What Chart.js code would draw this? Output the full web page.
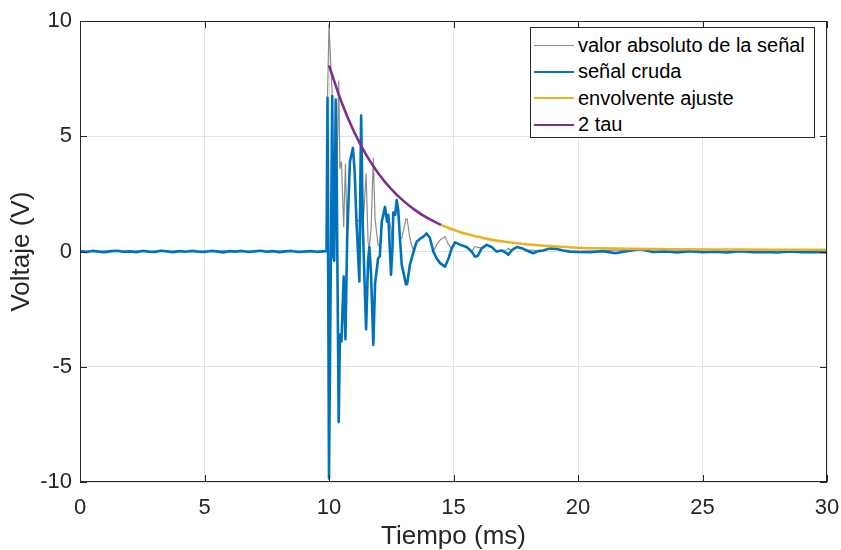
<!DOCTYPE html>
<html>
<head>
<meta charset="utf-8">
<script src="https://cdn.jsdelivr.net/npm/chart.js@4.4.1/dist/chart.umd.min.js"></script>
<style>
    html, body { margin: 0; padding: 0; background: #fff; }
    #wrap { position: relative; width: 841px; height: 550px; }
    #legend {
        position: absolute; left: 530px; top: 27px; width: 285px; height: 111px;
        box-sizing: border-box; border: 1px solid #262626; background: #fff;
        font-family: "Liberation Sans", Arial, sans-serif; font-size: 20px; color: #000;
        padding-top: 4px;
    }
    .row { display: flex; align-items: center; height: 26.5px; white-space: nowrap; }
    .sw { width: 40px; margin: 0 4px 0 3px; }
</style>
</head>
<body>
<div id="wrap">
    <canvas id="signalChart" width="841" height="550"></canvas>
    <div id="legend">
        <div class="row"><span class="sw" style="border-top:1.5px solid #8c8c8c"></span>valor absoluto de la señal</div>
        <div class="row"><span class="sw" style="border-top:2.5px solid #0072bd"></span>señal cruda</div>
        <div class="row"><span class="sw" style="border-top:2.5px solid #edb120"></span>envolvente ajuste</div>
        <div class="row"><span class="sw" style="border-top:2.5px solid #7e2f8e"></span>2 tau</div>
    </div>
</div>
<script>
// raw signal (ms, V)
const timeMs = [
    0, 0.25, 0.5, 0.75, 1, 1.25, 1.5, 1.75, 2, 2.25,
    2.5, 2.75, 3, 3.25, 3.5, 3.75, 4, 4.25, 4.5, 4.75,
    5, 5.25, 5.5, 5.75, 6, 6.25, 6.5, 6.75, 7, 7.25,
    7.5, 7.75, 8, 8.25, 8.5, 8.75, 9, 9.25, 9.5, 9.75,
    9.9, 9.94, 10.0, 10.13, 10.17, 10.21, 10.27, 10.31, 10.39, 10.44,
    10.5, 10.59, 10.66, 10.73, 10.84, 10.96, 11.03, 11.1, 11.22, 11.29,
    11.36, 11.49, 11.57, 11.62, 11.69, 11.78, 11.85, 11.97, 12.04, 12.12,
    12.25, 12.33, 12.38, 12.49, 12.55, 12.58, 12.66, 12.72, 12.78, 12.85,
    12.92, 13.01, 13.09, 13.14, 13.25, 13.38, 13.52, 13.65, 13.79, 13.92,
    14.05, 14.19, 14.32, 14.46, 14.66, 14.8, 14.93, 15.06, 15.26, 15.53,
    15.73, 15.86, 15.98, 16.13, 16.33, 16.53, 16.73, 16.93, 17.13, 17.2,
    17.33, 17.54, 17.74, 17.94, 18.2, 18.4, 18.6, 18.88, 19.1, 19.4,
    19.68, 20, 20.5, 21, 21.5, 22, 22.5, 23, 23.5, 24,
    24.5, 25, 25.5, 26, 26.5, 27, 27.5, 28, 28.5, 29,
    29.5, 30
];
const rawV = [
    0.02, -0.02, 0.03, 0.00, -0.03, 0.02, 0.04, -0.01, 0.01, -0.03,
    0.03, 0.00, -0.02, 0.04, 0.01, -0.03, 0.02, -0.01, 0.03, 0.00,
    -0.02, 0.03, 0.01, -0.04, 0.02, 0.00, 0.03, -0.02, 0.01, 0.04,
    -0.01, 0.02, -0.03, 0.01, 0.03, -0.02, 0.00, 0.02, -0.01, 0.01,
    0.02, 6.68, -9.85, 6.75, -0.2, -0.4, 6.6, 3.0, -7.4, -3.6,
    -3.9, -1.08, -3.8, 0.6, 3.9, 4.5, 3.5, 1.4, -1.3, 5.9,
    1.0, -3.37, -0.4, 0.2, -1.0, -4.05, -1.4, -0.3, -0.2, 1.3,
    1.94, 1.3, 1.6, -1.0, 0.2, 1.7, 1.6, 2.24, 1.8, 0.57,
    -0.57, -1.0, -1.43, -1.4, -0.57, -0.07, 0.43, 0.55, 0.65, 0.79,
    0.6, 0.0, -0.29, -0.5, -0.65, -0.3, 0.14, 0.4, 0.3, 0.2,
    0.0, -0.22, -0.18, 0.14, 0.29, 0.2, 0.0, 0.05, -0.07, -0.14,
    0.05, 0.2, 0.15, 0.05, -0.07, 0.02, 0.05, 0.14, 0.12, 0.05,
    0.0, -0.02, -0.03, 0.02, -0.07, 0.03, 0.1, -0.02, 0.01, -0.04,
    0.02, -0.03, 0.0, -0.04, 0.02, -0.03, -0.01, -0.04, 0.01, -0.03,
    -0.02, -0.04
];

// fitted envelope
const envTime = [10, 10.5, 11, 11.5, 12, 12.5, 13, 13.5, 14, 14.5, 15, 15.5, 16, 16.5, 17, 18, 19, 20, 21, 22, 24, 26, 28, 30];
const envV = [8.08, 6.49, 5.21, 4.19, 3.37, 2.71, 2.19, 1.77, 1.43, 1.16, 0.95, 0.77, 0.64, 0.52, 0.44, 0.31, 0.23, 0.17, 0.14, 0.12, 0.10, 0.09, 0.08, 0.08];
const twoTauEnd = 14.5;

const xTicks = [0, 5, 10, 15, 20, 25, 30];
const yTicks = [-10, -5, 0, 5, 10];

const pts = (ts, vs) => ts.map((t, i) => ({ x: t, y: vs[i] }));
const rawPts = pts(timeMs, rawV);
const absPts = pts(timeMs, rawV.map(Math.abs));
const envPts = pts(envTime, envV);
const fitPts = envPts.filter(p => p.x >= twoTauEnd);
const tauPts = envPts.filter(p => p.x <= twoTauEnd);

const INK = '#262626';
const FONT = '"Liberation Sans", Arial, sans-serif';

// MATLAB style box with inward ticks
const frame = {
    id: 'frame',
    afterDraw(chart) {
        const { ctx, chartArea: a, scales: { x, y } } = chart;
        ctx.save();
        ctx.strokeStyle = INK;
        ctx.lineWidth = 1;
        ctx.beginPath();
        xTicks.forEach(v => {
            const px = Math.round(x.getPixelForValue(v)) + 0.5;
            ctx.moveTo(px, a.bottom); ctx.lineTo(px, a.bottom - 7);
            ctx.moveTo(px, a.top); ctx.lineTo(px, a.top + 7);
        });
        yTicks.forEach(v => {
            const py = Math.round(y.getPixelForValue(v)) + 0.5;
            ctx.moveTo(a.left, py); ctx.lineTo(a.left + 7, py);
            ctx.moveTo(a.right, py); ctx.lineTo(a.right - 7, py);
        });
        ctx.stroke();
        ctx.strokeRect(Math.round(a.left) + 0.5, Math.round(a.top) + 0.5,
            Math.round(a.right - a.left) - 1, Math.round(a.bottom - a.top) - 1);
        ctx.restore();
    }
};

new Chart(document.getElementById('signalChart'), {
    type: 'line',
    data: {
        datasets: [
            { label: 'valor absoluto de la señal', data: absPts, borderColor: '#8c8c8c', borderWidth: 1.2, order: 4 },
            { label: 'señal cruda', data: rawPts, borderColor: '#0072bd', borderWidth: 2.6, order: 3 },
            { label: 'envolvente ajuste', data: fitPts, borderColor: '#edb120', borderWidth: 2.6, cubicInterpolationMode: 'monotone', order: 2 },
            { label: '2 tau', data: tauPts, borderColor: '#7e2f8e', borderWidth: 2.6, cubicInterpolationMode: 'monotone', order: 1 },
        ],
    },
    options: {
        responsive: false,
        animation: false,
        events: [],
        elements: { point: { radius: 0 }, line: { tension: 0, borderJoinStyle: 'round' } },
        layout: { padding: { top: 18, right: 14, left: 0, bottom: 0 } },
        plugins: { legend: { display: false }, tooltip: { enabled: false } },
        scales: {
            x: {
                type: 'linear', min: 0, max: 30,
                afterFit: s => { s.height = 68; s.paddingRight = 0; s.paddingLeft = 0; },
                afterBuildTicks: s => { s.ticks = xTicks.map(v => ({ value: v })); },
                ticks: { color: INK, font: { family: FONT, size: 22 }, padding: 13, maxRotation: 0 },
                grid: { color: '#e3e3e3', drawTicks: false },
                border: { display: false },
                title: { display: true, text: 'Tiempo (ms)', color: INK, font: { family: FONT, size: 26, lineHeight: 1 }, padding: { top: 0, bottom: 0 } },
            },
            y: {
                min: -10, max: 10,
                afterFit: s => { s.width = 80; },
                afterBuildTicks: s => { s.ticks = yTicks.map(v => ({ value: v })); },
                ticks: { color: INK, font: { family: FONT, size: 22 }, padding: 8 },
                grid: { color: '#e3e3e3', drawTicks: false },
                border: { display: false },
                title: { display: true, text: 'Voltaje (V)', color: INK, font: { family: FONT, size: 26, lineHeight: 1 }, padding: { top: 9, bottom: 0 } },
            },
        },
    },
    plugins: [frame],
});
</script>
</body>
</html>
